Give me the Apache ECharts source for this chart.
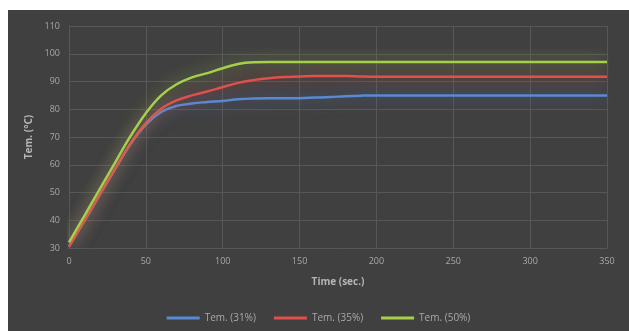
<!DOCTYPE html>
<html>
<head>
<meta charset="utf-8">
<script src="https://cdn.jsdelivr.net/npm/echarts@6/dist/echarts.min.js"></script>
<style>
  html, body { margin: 0; padding: 0; background: #ffffff; width: 629px; height: 331px; overflow: hidden; }
  #chart { position: absolute; left: 8px; top: 10px; width: 621px; height: 321px; background: #404040; }
</style>
</head>
<body>
<div id="chart"></div>
<script>
// Sampling times (seconds)
const times = [0, 10, 20, 30, 40, 50, 60, 70, 80, 90, 100, 110, 120, 130, 140, 150, 160, 170, 180, 190, 200,
               210, 220, 230, 240, 250, 260, 270, 280, 290, 300, 310, 320, 330, 340, 350];

// Temperature (°C) per heating level
const tem31 = [30.5, 39.8, 49.2, 58.5, 67.5, 74.5, 79, 81.2, 82.1, 82.6, 83, 83.6, 83.9, 84, 84, 84, 84.2, 84.4, 84.7, 84.9, 85,
               85, 85, 85, 85, 85, 85, 85, 85, 85, 85, 85, 85, 85, 85, 85];
const tem35 = [30.5, 39.8, 49.2, 58.5, 67.6, 75, 80.2, 83.2, 85, 86.4, 88, 89.5, 90.5, 91.2, 91.6, 91.8, 92, 92, 92, 91.8, 91.7,
               91.7, 91.7, 91.7, 91.7, 91.7, 91.7, 91.7, 91.7, 91.7, 91.7, 91.7, 91.7, 91.7, 91.7, 91.7];
const tem50 = [32, 41.6, 51.2, 60.8, 70.3, 78.6, 85, 89, 91.5, 93, 94.8, 96.3, 96.9, 97, 97, 97, 97, 97, 97, 97, 97,
               97, 97, 97, 97, 97, 97, 97, 97, 97, 97, 97, 97, 97, 97, 97];

const seriesNames = ['Tem. (31%)', 'Tem. (35%)', 'Tem. (50%)'];
const seriesColors = ['#5a8ad6', '#e0504c', '#a6d04a'];
const glowColors = ['rgba(90,138,214,0.75)', 'rgba(224,80,76,0.75)', 'rgba(166,208,74,0.75)'];

const pair = arr => times.map((t, i) => [t, arr[i]]);
const allData = [tem31, tem35, tem50];

const chart = echarts.init(document.getElementById('chart'));
const labelColor = '#a8a8a8';
const gridColor = '#575757';

chart.setOption({
  backgroundColor: '#404040',
  animation: false,
  textStyle: { fontFamily: 'Open Sans, sans-serif' },
  grid: { left: 61, top: 16, right: 22, bottom: 83 },
  legend: {
    bottom: 3,
    left: 'center',
    icon: 'rect',
    itemWidth: 33,
    itemHeight: 3,
    itemGap: 18,
    textStyle: { color: labelColor, fontSize: 10 },
    data: seriesNames
  },
  xAxis: {
    type: 'value',
    min: 0, max: 350, interval: 50,
    name: 'Time (sec.)',
    nameLocation: 'middle',
    nameGap: 29,
    nameTextStyle: { color: '#b5b5b5', fontSize: 10, fontWeight: 'bold' },
    axisLine: { show: true, lineStyle: { color: gridColor } },
    axisTick: { show: false },
    axisLabel: { color: labelColor, fontSize: 9, margin: 9 },
    splitLine: { show: true, lineStyle: { color: gridColor, width: 1 } }
  },
  yAxis: {
    type: 'value',
    min: 30, max: 110, interval: 10,
    name: 'Tem. (°C)',
    nameLocation: 'middle',
    nameGap: 30,
    nameRotate: 90,
    nameTextStyle: { color: '#b5b5b5', fontSize: 10, fontWeight: 'bold' },
    axisLine: { show: true, lineStyle: { color: gridColor } },
    axisTick: { show: false },
    axisLabel: { color: labelColor, fontSize: 9, margin: 9 },
    splitLine: { show: true, lineStyle: { color: gridColor, width: 1 } }
  },
  series: allData.map((arr, i) => ({
    name: seriesNames[i],
    type: 'line',
    data: pair(arr),
    smooth: 0.4,
    showSymbol: false,
    symbol: 'none',
    color: seriesColors[i],
    lineStyle: {
      color: seriesColors[i],
      width: 2.5,
      shadowColor: glowColors[i],
      shadowBlur: 16
    },
    z: 2 + i
  }))
});
</script>
</body>
</html>
